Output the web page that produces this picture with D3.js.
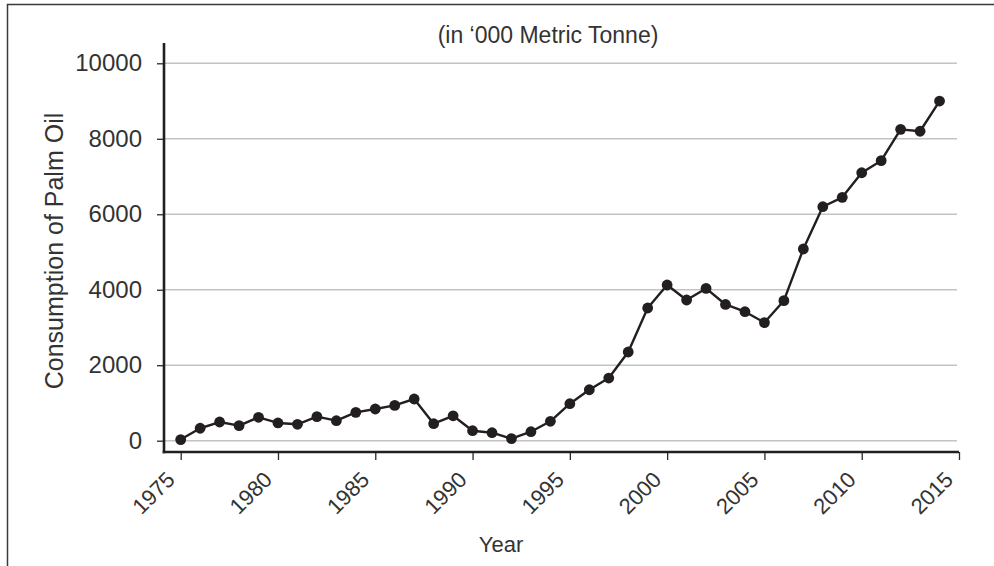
<!DOCTYPE html>
<html><head><meta charset="utf-8">
<script src="https://cdn.jsdelivr.net/npm/d3@7"></script>
<style>
html,body{margin:0;padding:0;background:#fff;}
text{font-family:"Liberation Sans","Helvetica",Arial,sans-serif;fill:#333;}
</style></head>
<body>
<svg id="chart" width="994" height="566"></svg>
<script>
const years = [1975,1976,1977,1978,1979,1980,1981,1982,1983,1984,1985,1986,1987,1988,1989,1990,1991,1992,1993,1994,1995,1996,1997,1998,1999,2000,2001,2002,2003,2004,2005,2006,2007,2008,2009,2010,2011,2012,2013,2014];
const consumption = [30,330,495,400,620,470,435,637,530,752,840,935,1105,450,660,265,212,55,238,514,980,1350,1660,2350,3516,4126,3728,4035,3610,3418,3130,3710,5080,6200,6449,7100,7420,8250,8200,9000];
const yTicks = [0,2000,4000,6000,8000,10000];
const xTicks = [1975,1980,1985,1990,1995,2000,2005,2010,2015];
const title = "(in \u2018000 Metric Tonne)";
const xLabel = "Year";
const yLabel = "Consumption of Palm Oil";

const svg = d3.select("#chart");
const x = d3.scaleLinear().domain([1975,2015]).range([180.7,959]);
const y = d3.scaleLinear().domain([0,10000]).range([440.7,63.3]);
const axisX0 = 164, axisY0 = 452, gridRight = 957;

// frame
svg.append("rect").attr("x",7.5).attr("y",4.5).attr("width",1000).attr("height",600)
  .attr("fill","none").attr("stroke","#3a3a3a").attr("stroke-width",1.5);

// gridlines
svg.append("g").selectAll("line").data(yTicks).join("line")
  .attr("x1",axisX0).attr("x2",gridRight)
  .attr("y1",d=>y(d)).attr("y2",d=>y(d))
  .attr("stroke","#c4c4c4").attr("stroke-width",1.5);

// y axis
const yAxis = svg.append("g").attr("transform",`translate(${axisX0},0)`)
  .call(d3.axisLeft(y).tickValues(yTicks).tickFormat(d3.format("d")).tickSize(7).tickPadding(15));
yAxis.select(".domain").remove();
yAxis.selectAll(".tick line").attr("stroke","#2a2a2a").attr("stroke-width",1.3);
yAxis.selectAll(".tick text").attr("font-size",24).attr("font-family",null).attr("fill","#333");
svg.append("line").attr("x1",axisX0).attr("x2",axisX0).attr("y1",43).attr("y2",axisY0+1.2)
  .attr("stroke","#231f20").attr("stroke-width",2.6);

// x axis
const xAxis = svg.append("g").attr("transform",`translate(0,${axisY0})`)
  .call(d3.axisBottom(x).tickValues(xTicks).tickFormat(d3.format("d")).tickSize(8));
xAxis.select(".domain").remove();
xAxis.selectAll(".tick line").attr("stroke","#2a2a2a").attr("stroke-width",1.3);
xAxis.selectAll(".tick text").attr("font-size",22).attr("font-family",null).attr("fill","#333")
  .attr("text-anchor","end").attr("dy",null).attr("y",null)
  .attr("transform","translate(-5,29) rotate(-45)");
svg.append("line").attr("x1",axisX0-1.3).attr("x2",959).attr("y1",axisY0).attr("y2",axisY0)
  .attr("stroke","#231f20").attr("stroke-width",2.6);

// line
const line = d3.line().x((d,i)=>x(years[i])).y(d=>y(d));
svg.append("path").datum(consumption).attr("d",line)
  .attr("fill","none").attr("stroke","#231f20").attr("stroke-width",2.4).attr("stroke-linejoin","round");
svg.append("g").selectAll("circle").data(consumption).join("circle")
  .attr("cx",(d,i)=>x(years[i])).attr("cy",d=>y(d)).attr("r",5.4).attr("fill","#231f20");

// texts
svg.append("text").attr("x",548).attr("y",43).attr("text-anchor","middle").attr("font-size",23).text(title);
svg.append("text").attr("x",501).attr("y",552).attr("text-anchor","middle").attr("font-size",22).text(xLabel);
svg.append("text").attr("transform","translate(63,251) rotate(-90)").attr("text-anchor","middle").attr("font-size",25).text(yLabel);
</script>
</body></html>
